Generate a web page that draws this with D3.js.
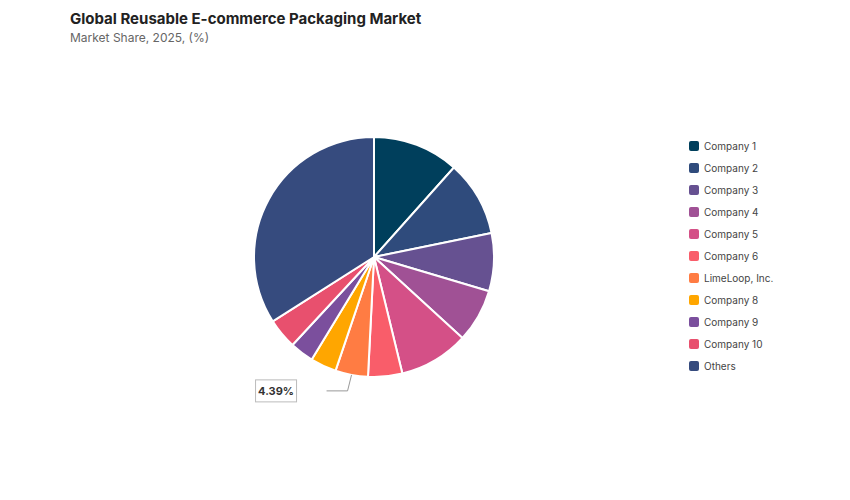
<!DOCTYPE html>
<html><head><meta charset="utf-8">
<script src="https://cdn.jsdelivr.net/npm/d3@7"></script>
<style>body{margin:0;background:#fff;font-family:Inter,"Noto Sans",sans-serif}</style>
</head><body><div id="chart"></div>
<script>
const companies = ["Company 1","Company 2","Company 3","Company 4","Company 5","Company 6","LimeLoop, Inc.","Company 8","Company 9","Company 10","Others"];
const shares = [11.6, 10.2, 7.8, 7.2, 9.4, 4.6, 4.39, 3.5, 3.2, 4.1, 34.01];
const colors = ["#003f5c","#2f4b7c","#665191","#a05195","#d45087","#f95d6a","#ff7c43","#ffa600","#7b4f9d","#e8506e","#364b7e"];

const svg = d3.select("#chart").append("svg").attr("width", 850).attr("height", 500);

svg.append("text").attr("x", 70).attr("y", 24).text("Global Reusable E-commerce Packaging Market")
  .style("font-size", "15px").style("font-weight", "700").attr("fill", "#222");
svg.append("text").attr("x", 70).attr("y", 42).text("Market Share, 2025, (%)")
  .style("font-size", "12px").attr("fill", "#666");

const cx = 374, cy = 257, r = 120;
const g = svg.append("g").attr("transform", `translate(${cx},${cy})`);
const pie = d3.pie().sort(null).value(d => d)(shares);
const arc = d3.arc().innerRadius(0).outerRadius(r);
g.selectAll("path").data(pie).enter().append("path")
  .attr("d", arc).attr("fill", (d, i) => colors[i])
  .attr("stroke", "#fff").attr("stroke-width", 2);

// callout for LimeLoop
const lp = pie[6];
const mid = (lp.startAngle + lp.endAngle) / 2;
const px = Math.sin(mid) * r, py = -Math.cos(mid) * r;
g.append("polyline")
  .attr("points", `${px},${py} ${px - 4},${py + 16} ${px - 25},${py + 16}`)
  .attr("fill", "none").attr("stroke", "#999");
const lbl = g.append("g").attr("transform", `translate(${px - 25 - 71},${py + 5})`);
lbl.append("rect").attr("width", 41).attr("height", 22).attr("fill", "#fff").attr("stroke", "#bbb");
lbl.append("text").attr("x", 20.5).attr("y", 15).attr("text-anchor", "middle")
  .text(shares[6].toFixed(2) + "%").style("font-size", "11px").style("font-weight", "700").attr("fill", "#333");

const leg = svg.append("g").attr("transform", "translate(689,141)");
companies.forEach((c, i) => {
  const row = leg.append("g").attr("transform", `translate(0,${i * 22})`);
  row.append("rect").attr("width", 10).attr("height", 10).attr("rx", 2).attr("fill", colors[i]);
  row.append("text").attr("x", 15).attr("y", 9).text(c).style("font-size", "10px").attr("fill", "#444");
});
</script></body></html>
